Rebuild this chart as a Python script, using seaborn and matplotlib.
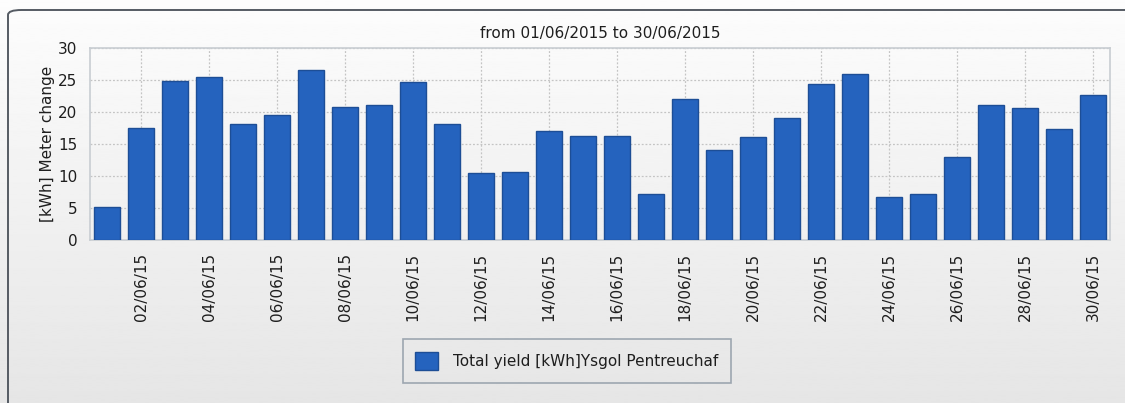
import numpy as np
import pandas as pd
import seaborn as sns
import matplotlib.pyplot as plt
from matplotlib.patches import FancyBboxPatch

# daily yield, June 2015
days = [f"{d:02d}/06/15" for d in range(1, 31)]
yield_kwh = [5.2, 17.5, 24.9, 25.4, 18.1, 19.6, 26.5, 20.8, 21.1, 24.7,
             18.1, 10.5, 10.7, 17.1, 16.3, 16.3, 7.2, 22.1, 14.0, 16.1,
             19.1, 24.4, 25.9, 6.7, 7.2, 13.0, 21.1, 20.6, 17.3, 22.6]
tick_labels = days[1::2]
yticks = [0, 5, 10, 15, 20, 25, 30]

df = pd.DataFrame({"day": days, "kwh": yield_kwh})

sns.set_style("white")
plt.rcParams["font.family"] = ["DejaVu Sans"]
txt = "#1e1e1e"

fig = plt.figure(figsize=(11.25, 4.03), dpi=100)

# panel background: vertical gradient with rounded dark border
bg = fig.add_axes([0, 0, 1, 1], zorder=-2)
grad = np.linspace(0.99, 0.90, 256).reshape(-1, 1)
bg.imshow(grad, aspect="auto", cmap="gray", vmin=0, vmax=1,
          extent=[0, 1, 0, 1], transform=bg.transAxes)
bg.set_axis_off()
fig.patches.append(FancyBboxPatch((8 / 1125, -0.1), 1.2, 1.1 - 10 / 403,
                                  boxstyle="round,pad=0,rounding_size=0.012",
                                  transform=fig.transFigure, fill=False,
                                  edgecolor="#555b63", linewidth=1.4, zorder=5))

ax = fig.add_axes([90 / 1125, 1 - 240 / 403, 1020 / 1125, 192 / 403])
ax.patch.set_alpha(0)

sns.barplot(data=df, x="day", y="kwh", ax=ax, color="#2563be", width=0.76,
            edgecolor="#1d4e96", linewidth=1.0, saturation=1,
            label="Total yield [kWh]Ysgol Pentreuchaf", zorder=3)

ax.set_xlim(-0.5, len(days) - 0.5)
ax.set_ylim(0, 30)
ax.set_yticks(yticks)
ax.set_yticklabels([str(v) for v in yticks], fontsize=11, color=txt)
ax.set_xticks(range(1, len(days), 2))
ax.set_xticklabels(tick_labels, rotation=90, fontsize=11, color=txt)
ax.tick_params(axis="both", length=5, width=0.8, color="#c8c8c8", pad=4)
ax.grid(True, linestyle=(0, (1.5, 1.5)), color="#c4c4c4", linewidth=0.9, zorder=0)
ax.set_axisbelow(True)
for s in ax.spines.values():
    s.set_color("#c8cdd2")
    s.set_linewidth(1.2)

ax.set_xlabel("")
ax.set_ylabel("[kWh] Meter change", fontsize=11, color=txt, labelpad=2)
ax.set_title("from 01/06/2015 to 30/06/2015", fontsize=11, color=txt, pad=7)

leg = ax.legend(loc="center", bbox_to_anchor=(567 / 1125, 42 / 403),
                bbox_transform=fig.transFigure, fontsize=11, frameon=True,
                fancybox=False, handlelength=1.5, handleheight=1.5,
                borderpad=0.8, handletextpad=1.0, borderaxespad=0)
leg.get_frame().set_edgecolor("#8a96a2")
leg.get_frame().set_facecolor("none")
leg.get_frame().set_linewidth(1.2)
for t in leg.get_texts():
    t.set_color(txt)

fig.savefig("out.png", dpi=100)
